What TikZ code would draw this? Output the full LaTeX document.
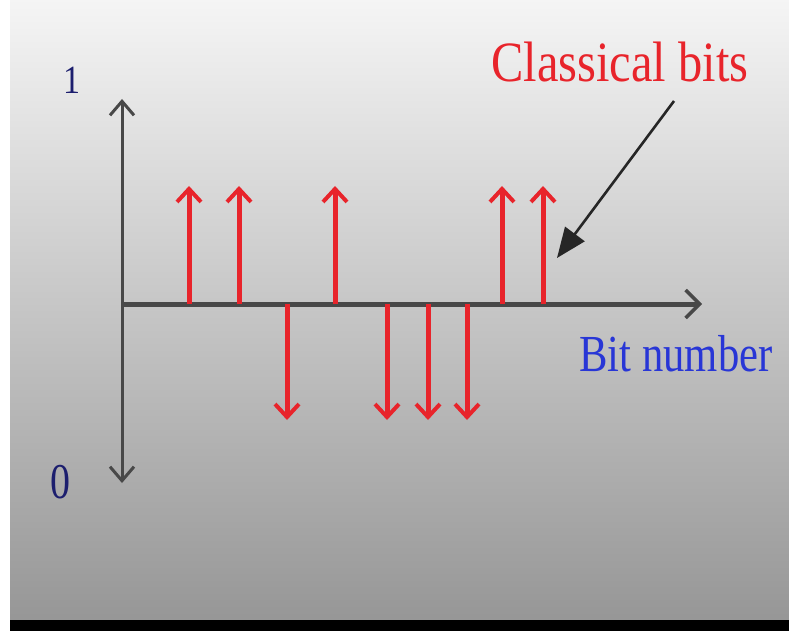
\documentclass[tikz,border=0pt]{standalone}
\usepackage{fontspec}
\setmainfont{Liberation Serif}
\usetikzlibrary{arrows.meta}
\definecolor{bitred}{HTML}{E8242B}
\definecolor{axisgray}{HTML}{484848}
\definecolor{labelnavy}{HTML}{1C1E6E}
\definecolor{labelblue}{HTML}{2836D6}
\begin{document}
\begin{tikzpicture}[x=1pt,y=-1pt,
  axisline/.style={draw=axisgray, line width=3pt},
  bitarrow/.style={draw=bitred, line width=5pt, -{Straight Barb[length=13pt,width=24pt,line width=4pt]}},
  pointer/.style={draw=black!85, line width=2.6pt, -{Triangle[length=30pt,width=24pt]}},
  lbl/.style={inner sep=0pt, anchor=center}
]
\useasboundingbox (0,0) rectangle (789,631);
\fill[white] (0,0) rectangle (789,631);
\shade[top color=white!96!black, middle color=white!78!black, bottom color=white!59!black]
  (10,0) rectangle (789,620);
\fill[black] (10,620) rectangle (789,631);

% axes
\coordinate (O) at (122,304);
\coordinate (ytop) at (122,99);
\coordinate (ybot) at (122,483);
\coordinate (xend) at (702,304);
\draw[axisline, {Straight Barb[length=14pt,width=24pt,line width=3pt]}-{Straight Barb[length=14pt,width=24pt,line width=3pt]}] (ybot) -- (ytop);
\draw[axisline, line width=5pt, -{Straight Barb[length=14pt,width=28pt,line width=3.5pt]}] (O) -- (xend);

% bits
\foreach \i/\x in {1/189,2/239,3/335,4/502,5/543}{
  \coordinate (ub\i) at (\x,304);
  \coordinate (ut\i) at (\x,186);
  \draw[bitarrow] (ub\i) -- (ut\i);
}
\foreach \i/\x in {1/287,2/387,3/428,4/467}{
  \coordinate (db\i) at (\x,304);
  \coordinate (dt\i) at (\x,420);
  \draw[bitarrow] (db\i) -- (dt\i);
}

% labels
\node[lbl, text=labelnavy, xscale=0.85] (one) at (72,80) {\fontsize{40}{40}\selectfont 1};
\node[lbl, text=labelnavy, xscale=0.8] (zero) at (60,482) {\fontsize{50}{50}\selectfont 0};
\node[lbl, text=bitred, xscale=0.85, anchor=base] (cb) at (620,82) {\fontsize{57}{57}\selectfont Classical bits};
\node[lbl, text=labelblue, xscale=0.82, anchor=base] (bn) at (676,371) {\fontsize{52}{52}\selectfont Bit number};

% pointer
\coordinate (ps) at (674,101);
\coordinate (pt) at (557,258);
\draw[pointer] (ps) -- (pt);
\end{tikzpicture}
\end{document}
